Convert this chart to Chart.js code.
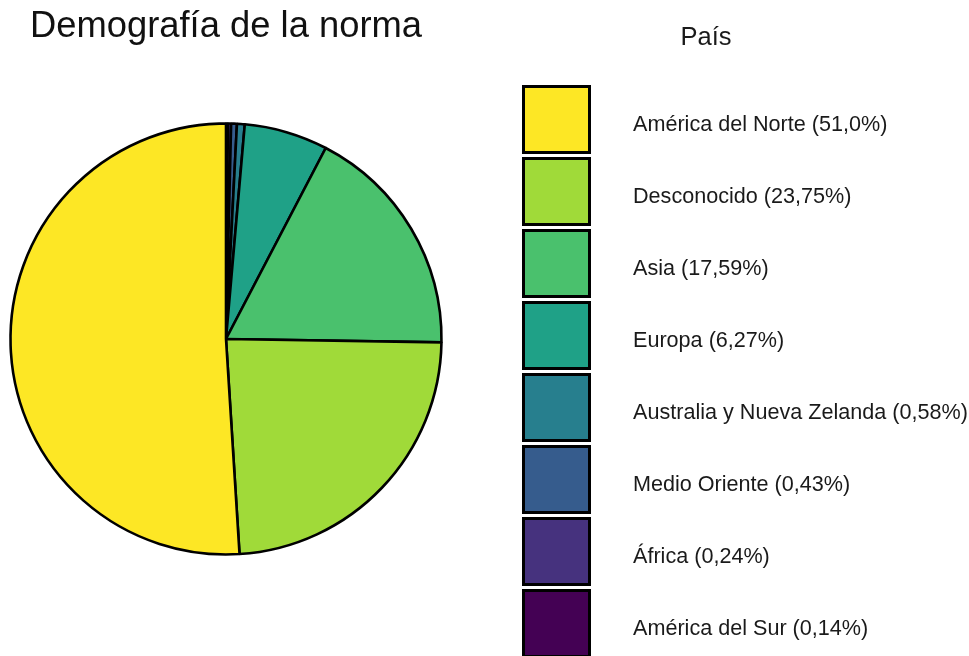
<!DOCTYPE html>
<html lang="es">
<head>
    <meta charset="UTF-8">
    <title>Demografía de la norma</title>
    <script src="https://cdn.jsdelivr.net/npm/chart.js@4.4.1/dist/chart.umd.min.js"></script>
    <style>
        html, body {
            margin: 0;
            padding: 0;
            background: #fff;
            overflow: hidden;
        }
        .wrap {
            position: relative;
            width: 969px;
            height: 656px;
            overflow: hidden;
            font-family: "Liberation Sans", Arial, sans-serif;
        }
        #pieChart {
            position: absolute;
            left: 0;
            top: 0;
        }
        #legend {
            position: absolute;
            left: 0;
            top: 0;
            width: 969px;
            height: 656px;
            pointer-events: none;
        }
        .legend-title {
            position: absolute;
            left: 606px;
            width: 200px;
            top: 21px;
            text-align: center;
            font-size: 25.5px;
            line-height: 30px;
            color: #1a1a1a;
        }
        .legend-item {
            position: absolute;
            left: 522px;
            height: 69px;
            width: 445px;
        }
        .legend-box {
            position: absolute;
            left: 0;
            top: 0;
            width: 63px;
            height: 63px;
            border: 3px solid #000;
        }
        .legend-text {
            position: absolute;
            left: 111px;
            top: 3px;
            line-height: 72px;
            font-size: 21.6px;
            color: #1a1a1a;
            white-space: nowrap;
        }
    </style>
</head>
<body>
    <div class="wrap">
        <canvas id="pieChart" width="969" height="656"></canvas>
        <div id="legend"></div>
    </div>

    <script>
        // Legend order (largest first)
        const regions = ['América del Norte', 'Desconocido', 'Asia', 'Europa',
            'Australia y Nueva Zelanda', 'Medio Oriente', 'África', 'América del Sur'];
        const shares = [51.0, 23.75, 17.59, 6.27, 0.58, 0.43, 0.24, 0.14];
        const shareLabels = ['51,0', '23,75', '17,59', '6,27', '0,58', '0,43', '0,24', '0,14'];
        const colors = ['#fde725', '#a0da39', '#4ac16d', '#1fa187',
            '#277f8e', '#365c8d', '#46327e', '#440154'];

        // pie goes clockwise from 12 o'clock starting with the smallest slice
        const pieLabels = regions.slice().reverse();
        const pieValues = shares.slice().reverse();
        const pieColors = colors.slice().reverse();

        const FONT = '"Liberation Sans", Arial, sans-serif';

        // draws the legend as html next to the pie
        const htmlLegend = {
            id: 'htmlLegend',
            afterUpdate(chart) {
                const box = document.getElementById('legend');
                box.innerHTML = '';
                const title = document.createElement('div');
                title.className = 'legend-title';
                title.textContent = 'País';
                box.appendChild(title);

                regions.forEach((name, i) => {
                    const idx = pieLabels.indexOf(name);
                    const item = document.createElement('div');
                    item.className = 'legend-item';
                    item.style.top = (85 + i * 72) + 'px';
                    const sw = document.createElement('div');
                    sw.className = 'legend-box';
                    sw.style.background = chart.data.datasets[0].backgroundColor[idx];
                    const txt = document.createElement('div');
                    txt.className = 'legend-text';
                    txt.textContent = name + ' (' + shareLabels[i] + '%)';
                    item.appendChild(sw);
                    item.appendChild(txt);
                    box.appendChild(item);
                });
            }
        };

        new Chart(document.getElementById('pieChart'), {
            type: 'pie',
            data: {
                labels: pieLabels,
                datasets: [{
                    data: pieValues,
                    backgroundColor: pieColors,
                    borderColor: '#000',
                    borderWidth: 2.6,
                    radius: 215.5,
                    clip: false
                }]
            },
            options: {
                responsive: false,
                animation: false,
                layout: {
                    padding: { left: 30, right: 547, top: 0, bottom: 100 }
                },
                plugins: {
                    legend: { display: false },
                    tooltip: { enabled: false },
                    title: {
                        display: true,
                        text: 'Demografía de la norma',
                        align: 'start',
                        color: '#111',
                        font: { family: FONT, size: 36.5, weight: 'normal', lineHeight: 1.2 },
                        padding: { top: 5, bottom: 73.2 }
                    }
                }
            },
            plugins: [htmlLegend]
        });
    </script>
</body>
</html>
